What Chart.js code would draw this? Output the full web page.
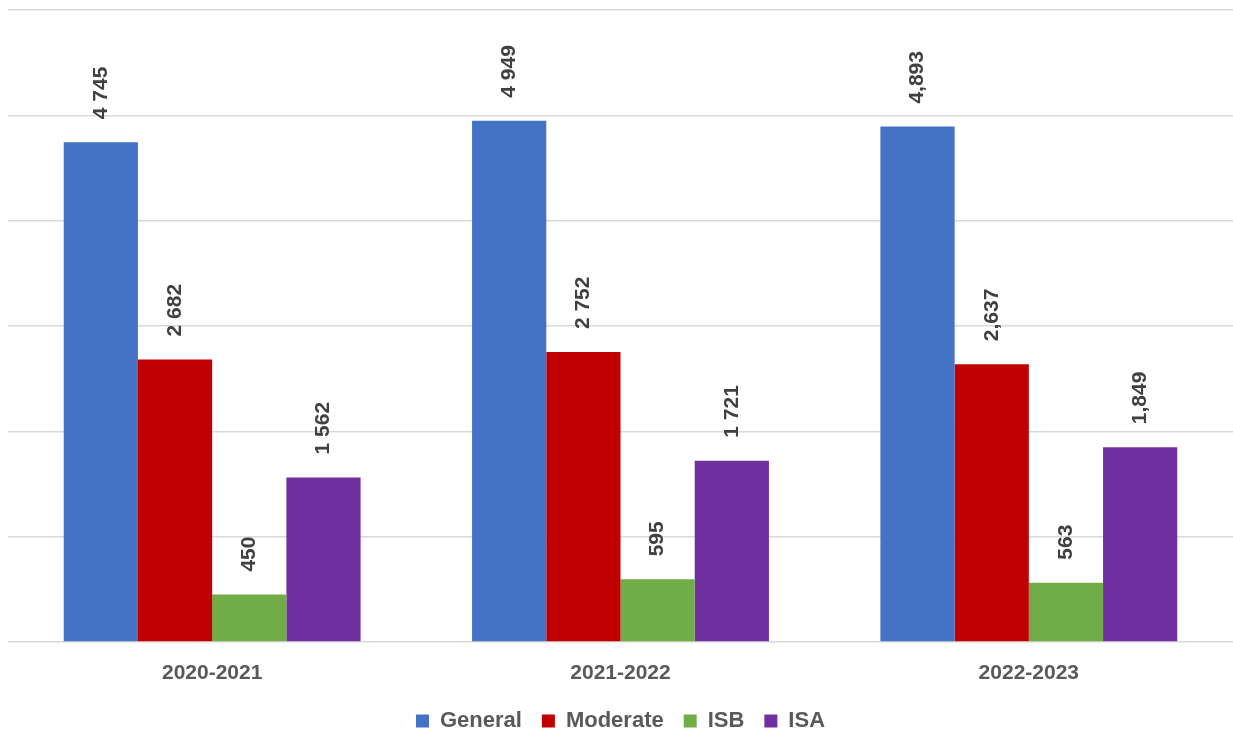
<!DOCTYPE html>
<html>
<head>
<meta charset="utf-8">
<script src="https://cdn.jsdelivr.net/npm/chart.js@4/dist/chart.umd.min.js"></script>
<style>
  html, body { margin: 0; padding: 0; background: #fff; }
  #wrap { width: 1233px; height: 732px; }
</style>
</head>
<body>
<div id="wrap"><canvas id="cases_chart"></canvas></div>
<script>
const years = ['2020-2021', '2021-2022', '2022-2023'];
const general = [4745, 4949, 4893];
const moderate = [2682, 2752, 2637];
const isb = [450, 595, 563];
const isa = [1562, 1721, 1849];
// thousands separator used for each year's labels
const separators = [' ', ' ', ','];

const cases_chart = document.getElementById('cases_chart');

function fmt(v, sep) {
  return String(v).replace(/\B(?=(\d{3})+(?!\d))/g, sep);
}

// vertical value labels above every bar
const barLabels = {
  id: 'barLabels',
  afterDatasetsDraw(chart) {
    const ctx = chart.ctx;
    ctx.save();
    ctx.font = 'bold 21px "Liberation Sans", Arial, sans-serif';
    ctx.fillStyle = '#404040';
    ctx.textAlign = 'left';
    ctx.textBaseline = 'middle';
    chart.data.datasets.forEach((ds, i) => {
      chart.getDatasetMeta(i).data.forEach((bar, j) => {
        ctx.save();
        ctx.translate(bar.x, bar.y - 23);
        ctx.rotate(-Math.PI / 2);
        ctx.fillText(fmt(ds.data[j], separators[j]), 0, 0);
        ctx.restore();
      });
    });
    ctx.restore();
  }
};

new Chart(cases_chart, {
  type: 'bar',
  data: {
    labels: years,
    datasets: [
      { label: 'General', data: general, backgroundColor: '#4472C4' },
      { label: 'Moderate', data: moderate, backgroundColor: '#C00000' },
      { label: 'ISB', data: isb, backgroundColor: '#70AD47' },
      { label: 'ISA', data: isa, backgroundColor: '#7030A0' }
    ]
  },
  options: {
    responsive: true,
    maintainAspectRatio: false,
    animation: false,
    layout: { padding: { left: 8, top: 10, right: 0, bottom: -10 } },
    datasets: {
      bar: { categoryPercentage: 0.727, barPercentage: 1.0 }
    },
    scales: {
      x: {
        grid: { display: false, drawTicks: false },
        border: { display: false },
        ticks: {
          color: '#595959',
          padding: 19,
          font: { family: '"Liberation Sans", Arial, sans-serif', size: 21, weight: 'bold' }
        },
        afterFit(scale) { scale.height = 48; }
      },
      y: {
        min: 0,
        max: 6000,
        ticks: { display: false, stepSize: 1000 },
        grid: { color: '#d9d9d9', lineWidth: 1.5, drawTicks: false },
        border: { display: false }
      }
    },
    plugins: {
      legend: {
        position: 'bottom',
        labels: {
          color: '#595959',
          boxWidth: 13,
          boxHeight: 13,
          padding: 20,
          font: { family: '"Liberation Sans", Arial, sans-serif', size: 22, weight: 'bold' }
        }
      },
      tooltip: { enabled: false }
    }
  },
  plugins: [barLabels]
});
</script>
</body>
</html>
